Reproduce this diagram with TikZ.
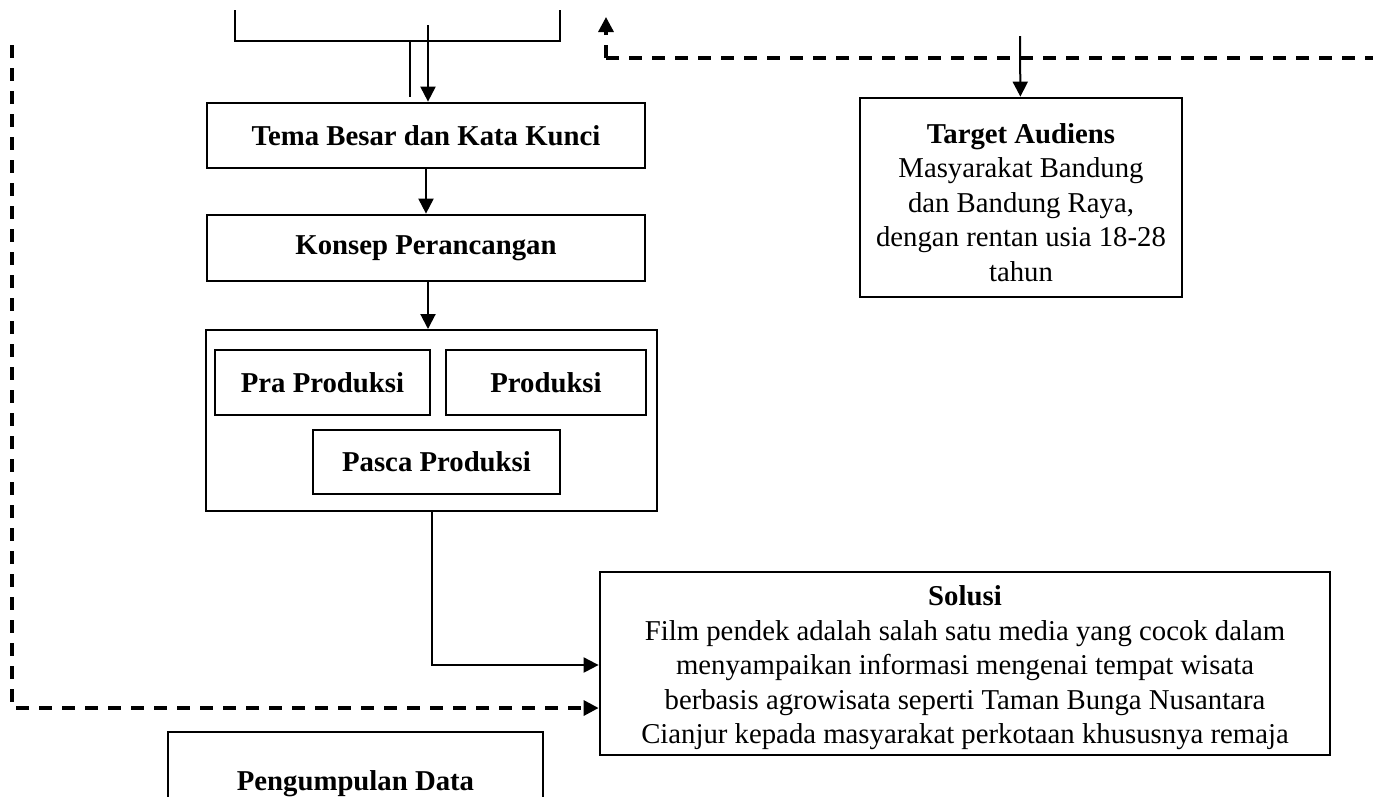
\documentclass[tikz,border=0pt]{standalone}
\usepackage{fontspec}
\setmainfont{Liberation Serif}
\usetikzlibrary{arrows.meta,calc}
\tikzset{
	kotak/.style={draw, line width=1.1pt, inner sep=2pt, align=center},
	garis/.style={line width=0.8pt},
	putus/.style={line width=1.3pt, dash pattern=on 5.2pt off 4pt},
}
\newcommand{\judul}[1]{\textbf{#1}}

\begin{document}
\begin{tikzpicture}[x=0.4pt, y=-0.4pt, >={Triangle[length=6pt,width=6pt]},
		garis, font=\fontsize{11.5}{13.8}\selectfont]
	\useasboundingbox (0,0) rectangle (1373,796);
	% kotak utama
	\node[kotak, minimum width=175.2pt, minimum height=26pt] (tema) at (426,135.5) {\judul{Tema Besar dan Kata Kunci}};
	\node[kotak, minimum width=175.2pt, minimum height=26.4pt] (konsep) at (426,248) {\judul{Konsep Perancangan}};
	\node[kotak, line width=0.8pt, minimum width=180.4pt, minimum height=72.4pt] (wadah) at (431.5,420.5) {};
	\node[kotak, minimum width=86pt, minimum height=26pt] (pra) at (322.5,382.5) {\judul{Pra Produksi}};
	\node[kotak, minimum width=80pt, minimum height=26pt] (produksi) at (546,382.5) {\judul{Produksi}};
	\node[kotak, minimum width=98.8pt, minimum height=25.6pt] (pasca) at (436.5,462) {\judul{Pasca Produksi}};
	\node[kotak, minimum width=128.8pt, minimum height=79.6pt] (target) at (1021,197.5) {\rule{0pt}{12pt}\judul{Target Audiens}\\ Masyarakat Bandung\\ dan Bandung Raya,\\ dengan rentan usia 18-28\\ tahun};
	\node[kotak, minimum width=292pt, minimum height=73.2pt] (solusi) at (965,663.5) {};
	\node[align=center, inner sep=0pt] (solusiteks) at (965,668) {\judul{Solusi}\\ Film pendek adalah salah satu media yang cocok dalam\\ menyampaikan informasi mengenai tempat wisata\\ berbasis agrowisata seperti Taman Bunga Nusantara\\ Cianjur kepada masyarakat perkotaan khususnya remaja};
	\node[kotak, minimum width=150pt, minimum height=41.6pt] (data) at (355.5,784) {\judul{Pengumpulan Data}};
	
	% titik bebas
	\coordinate (kurungA) at (235,10);
	\coordinate (kurungB) at (560,10);
	\coordinate (garisA) at (410,41);
	\coordinate (garisB) at (428,25);
	\coordinate (sudut) at (606,58);
	\coordinate (kanan) at (1373,58);
	\coordinate (atas) at (1020,36);
	\coordinate (kiri) at (12,45);
	
	\draw (kurungA) |- (560,41) -- (kurungB);
	\draw (garisA) -- (410,97);
	\draw[->] (garisB) -- (garisB |- tema.north);
	\draw[->] (tema) -- (konsep);
	\draw[->] (garisB |- konsep.south) -- (garisB |- wadah.north);
	\draw[->] (wadah.south) |- ($(solusi.west)+(0,1.5)$);
	\draw[->] (atas) -- (target);
	\draw[putus, ->] (sudut) -- ++(0,-41);
	\draw[putus] (sudut) -- (kanan);
	\draw[putus, ->] (kiri) |- ($(solusi.west)+(0,44.5)$);
\end{tikzpicture}
\end{document}
